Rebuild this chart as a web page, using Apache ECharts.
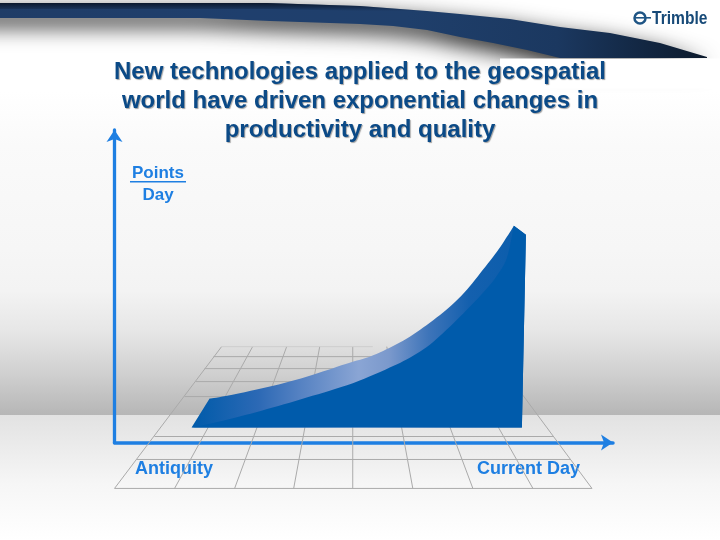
<!DOCTYPE html>
<html><head><meta charset="utf-8">
<style>html,body{margin:0;padding:0;background:#fff}#c{width:720px;height:540px}</style>
<script src="https://cdn.jsdelivr.net/npm/echarts@6/dist/echarts.min.js"></script>
</head><body><div id="c"></div>
<script>
const titleLines = ['New technologies applied to the geospatial','world have driven exponential changes in','productivity and quality'];
const xTickValues = [59.5, 413.5];
const xTickLabels = ['Antiquity', 'Current Day'];
const yLabelTop = 'Points';
const yLabelBottom = 'Day';
const logoText = 'Trimble';
// Curve outlines, in axis units
const ribbonX = [77, 95, 108, 142, 175, 208, 235, 255, 275, 295, 315, 335, 352, 368, 382, 392, 399, 411, 407];
const ribbonY = [15, 44, 46, 53, 61, 71, 80, 86, 95, 106, 120, 136, 153, 173, 191, 206, 217, 208, 15];
const faceX = [77, 92, 125, 158, 192, 225, 245, 275, 295, 315, 335, 355, 370, 382, 392, 399, 411, 407];
const faceY = [15, 18, 26, 35, 45, 55, 62, 75, 85, 98, 116, 136, 152, 167, 185, 217, 208, 15];
// Floor grid
const floorFarX = [107, 138, 172, 205, 238, 272, 305, 338, 372];
const floorNearX = [0, 60, 120, 179, 238, 298, 358, 418, 477];
const floorFarY = 96;
const floorNearY = -46;
const floorRowY = [96, 86, 74, 61, 46, 6, -17, -46];
const floorRowL = [107, 99, 90, 81, 70, 40, 22, 0];
const floorRowR = [258, 260, 300, 300, 300, 438, 455, 477];

const segs = [];
floorFarX.forEach((x, i) => segs.push([x, floorFarY, floorNearX[i], floorNearY]));
floorRowY.forEach((y, i) => segs.push([floorRowL[i], y, floorRowR[i], y]));

// Round the drawn outline between the read points (indices from..to), leaving the corners sharp.
function rounded(pts, from, to) {
  const out = pts.slice(0, from);
  for (let i = from; i < to; i++) {
    const p0 = pts[Math.max(i - 1, from)], p1 = pts[i], p2 = pts[i + 1], p3 = pts[Math.min(i + 2, to)];
    for (let s = 0; s < 6; s++) {
      const t = s / 6, t2 = t * t, t3 = t2 * t;
      out.push([0, 1].map(k => 0.5 * (2 * p1[k] + (p2[k] - p0[k]) * t + (2 * p0[k] - 5 * p1[k] + 4 * p2[k] - p3[k]) * t2 + (3 * p1[k] - p0[k] - 3 * p2[k] + p3[k]) * t3)));
    }
  }
  return out.concat(pts.slice(to));
}
function poly(xs, ys, api, fill, from, to) {
  const pts = xs.map((x, i) => api.coord([x, ys[i]]));
  return { type: 'polygon', shape: { points: rounded(pts, from, to) }, style: { fill } };
}
const chart = echarts.init(document.getElementById('c'), null, { renderer: 'canvas' });
const BLUE = '#1e7fe2';
const FONT = '"Liberation Sans", Arial, sans-serif';
chart.setOption({
  animation: false,
  backgroundColor: '#fff',
  title: {
    text: titleLines.join('\n'), left: 355, textAlign: 'center', top: 53,
    textStyle: { fontFamily: FONT, fontSize: 24, fontWeight: 'bold', lineHeight: 29, color: '#0b4a87',
      textShadowColor: 'rgba(70,70,70,0.5)', textShadowBlur: 1, textShadowOffsetX: 1, textShadowOffsetY: 1 }
  },
  grid: { left: 114.5, right: 107, top: 130, bottom: 97.5 },
  xAxis: { type: 'value', min: 0, max: 498, splitLine: { show: false }, axisTick: { show: false },
    axisLine: { show: true, onZero: false, symbol: ['none', 'arrow'], symbolSize: [12, 12], lineStyle: { color: BLUE, width: 3.5 } },
    axisLabel: { show: true, customValues: xTickValues, margin: 18, fontFamily: FONT, fontSize: 18, fontWeight: 'bold', color: BLUE,
      formatter: v => xTickLabels[xTickValues.indexOf(v)] } },
  yAxis: { type: 'value', min: 0, max: 313, splitLine: { show: false }, axisTick: { show: false }, axisLabel: { show: false },
    axisLine: { show: true, onZero: false, symbol: ['none', 'arrow'], symbolSize: [12, 12], lineStyle: { color: BLUE, width: 3.3 } } },
  graphic: { elements: [
    { type: 'rect', z: -10, silent: true, shape: { x: 0, y: 0, width: 720, height: 415 },
      style: { fill: new echarts.graphic.LinearGradient(0, 0, 0, 1, [
        { offset: 0, color: '#ffffff' }, { offset: 0.22, color: '#ffffff' }, { offset: 0.35, color: '#fafafa' }, { offset: 0.6, color: '#f6f6f6' },
        { offset: 0.7, color: '#f3f3f3' }, { offset: 0.8, color: '#e6e6e6' }, { offset: 0.9, color: '#d0d0d0' }, { offset: 1, color: '#b6b6b6' }]) } },
    { type: 'rect', z: -10, silent: true, shape: { x: 0, y: 415, width: 720, height: 125 },
      style: { fill: new echarts.graphic.LinearGradient(0, 0, 0, 1, [
        { offset: 0, color: '#e2e2e2' }, { offset: 0.55, color: '#f6f6f6' }, { offset: 1, color: '#ffffff' }]) } },
    { type: 'polygon', z: -5, silent: true,
      shape: { points: [[-40,3],[267,3],[360,6],[427,11],[460,14],[510,19],[560,27],[610,33],[660,43],[707,57],[707,58],
        [560,58],[527,50],[493,43],[460,37],[427,30],[393,26],[360,24],[270,21],[200,18],[-40,18]] },
      style: { fill: new echarts.graphic.LinearGradient(0, 0, 1, 0, [
        { offset: 0, color: '#1f3c66' }, { offset: 0.38, color: '#1f3f6d' }, { offset: 0.6, color: '#1f3f6b' },
        { offset: 0.8, color: '#1b3860' }, { offset: 1, color: '#0c1a2c' }]),
        shadowColor: 'rgba(30,30,30,1)', shadowBlur: 22, shadowOffsetY: 8 } },
    { type: 'rect', z: -4.5, silent: true, shape: { x: 500, y: 58.5, width: 220, height: 30 }, style: { fill: '#ffffff' } },
    { type: 'polygon', z: -4, silent: true, shape: { points: [[0,3],[267,3],[360,6],[427,11],[360,11],[267,9],[0,9]] },
      style: { fill: new echarts.graphic.LinearGradient(0, 0, 0, 1, [
        { offset: 0, color: 'rgba(5,12,25,0.75)' }, { offset: 1, color: 'rgba(5,12,25,0)' }]) } },
    { type: 'text', z: 5, silent: true, x: 652, y: 9, scaleX: 0.82, style: { text: logoText, x: 0, y: 0, fontFamily: FONT, fontSize: 19, fontWeight: 'bold', fill: '#174a78' } },
    { type: 'circle', z: 5, silent: true, shape: { cx: 640, cy: 18, r: 5.5 }, style: { fill: 'none', stroke: '#1f5585', lineWidth: 2.5 } },
    { type: 'rect', z: 5, silent: true, shape: { x: 634, y: 17, width: 17, height: 1.6 }, style: { fill: '#1f5585' } },
    { type: 'text', z: 5, silent: true, style: { text: yLabelTop, x: 158, y: 173, align: 'center', verticalAlign: 'middle', fontFamily: FONT, fontSize: 17, fontWeight: 'bold', fill: BLUE } },
    { type: 'rect', z: 5, silent: true, shape: { x: 130, y: 181, width: 56, height: 1.5 }, style: { fill: BLUE } },
    { type: 'text', z: 5, silent: true, style: { text: yLabelBottom, x: 158, y: 195, align: 'center', verticalAlign: 'middle', fontFamily: FONT, fontSize: 17, fontWeight: 'bold', fill: BLUE } }
  ] },
  series: [
    { type: 'custom', coordinateSystem: 'cartesian2d', clip: false, silent: true, z: 1, data: segs,
      encode: { x: [0, 2], y: [1, 3] },
      renderItem: (p, api) => {
        const a = api.coord([api.value(0), api.value(1)]), b = api.coord([api.value(2), api.value(3)]);
        const isFarRow = api.value(1) === floorFarY && api.value(3) === floorFarY;
        return { type: 'line', shape: { x1: a[0], y1: a[1], x2: b[0], y2: b[1] }, style: { stroke: isFarRow ? '#cdcdcd' : '#aaaaaa', lineWidth: 1 } };
      } },
    { type: 'custom', coordinateSystem: 'cartesian2d', clip: false, silent: true, z: 2, data: [[0, 0]],
      renderItem: (p, api) => ({ type: 'group', children: [
        poly(ribbonX, ribbonY, api, new echarts.graphic.LinearGradient(0, 0, 1, 0, [
          { offset: 0, color: '#005bab' }, { offset: 0.05, color: '#0a5eac' }, { offset: 0.2, color: '#2c69b5' }, { offset: 0.32, color: '#5481c2' },
          { offset: 0.5, color: '#8aa5d4' }, { offset: 0.59, color: '#7b99cc' }, { offset: 0.71, color: '#3d74b9' }, { offset: 0.83, color: '#1460ae' }, { offset: 1, color: '#0a5dac' }]), 1, 16),
        poly(faceX, faceY, api, '#005bab', 0, 15)
      ] }) }
  ]
});
</script></body></html>
